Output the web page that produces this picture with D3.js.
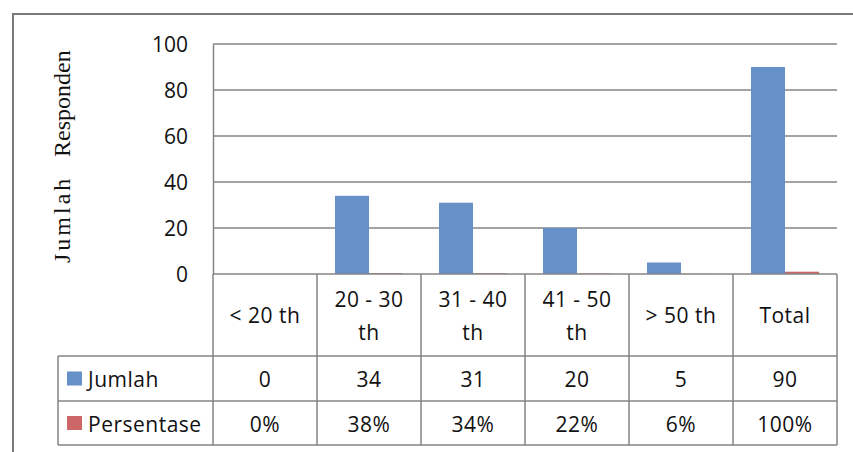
<!DOCTYPE html>
<html>
<head>
<meta charset="utf-8">
<script src="https://cdn.jsdelivr.net/npm/d3@7"></script>
<style>
  html, body { margin: 0; padding: 0; background: #ffffff; }
  svg { display: block; }
</style>
</head>
<body>
<svg id="chart" width="853" height="452"></svg>
<script>
// ---- data ----
const categories = ["< 20 th", "20 - 30 th", "31 - 40 th", "41 - 50 th", "> 50 th", "Total"];
const categoryLines = [["< 20 th"], ["20 - 30", "th"], ["31 - 40", "th"], ["41 - 50", "th"], ["> 50 th"], ["Total"]];
const seriesNames = ["Jumlah", "Persentase"];
const jumlah = [0, 34, 31, 20, 5, 90];
const persentase = [0.00, 0.38, 0.34, 0.22, 0.06, 1.00];
const persentaseLabels = ["0%", "38%", "34%", "22%", "6%", "100%"];
const yTicks = [0, 20, 40, 60, 80, 100];
const yTitle = ["Jumlah", "Responden"];

// ---- layout ----
const plotL = 213, plotR = 837, plotT = 44, plotB = 274;
const headerB = 356, row1B = 401, row2B = 445, legendL = 58;
const colors = { Jumlah: "#6690c8", Persentase: "#cd6666" };
const gridColor = "#858585";
const font = "'Open Sans', 'Noto Sans', sans-serif";
const serif = "'Liberation Serif', 'DejaVu Serif', serif";

const svg = d3.select("#chart");

// outer chart border (only top & left visible)
svg.append("path")
  .attr("d", `M13,452 V14 H853`)
  .attr("fill", "none").attr("stroke", "#7a7a7a").attr("stroke-width", 2);

const x0 = d3.scaleBand().domain(categories).range([plotL, plotR]).padding(0);
const x1 = d3.scaleBand().domain(seriesNames).range([18, 86]).padding(0);
const y = d3.scaleLinear().domain([0, 100]).range([plotB, plotT]);

// gridlines
svg.append("g").selectAll("line").data(yTicks.filter(d => d > 0)).join("line")
  .attr("x1", plotL).attr("x2", plotR)
  .attr("y1", d => y(d)).attr("y2", d => y(d))
  .attr("stroke", gridColor).attr("stroke-width", 1.5);

// y axis (left plot border + labels)
const yAxis = d3.axisLeft(y).tickValues(yTicks).tickSize(0).tickPadding(25);
const gy = svg.append("g").attr("transform", `translate(${plotL},0)`).call(yAxis);
gy.select(".domain").attr("stroke", gridColor).attr("stroke-width", 1.5);
gy.selectAll("text").attr("font-family", font).attr("font-size", 21).attr("fill", "#111")
  .attr("dy", "0.36em");

// y title (rotated)
const tTitle = svg.append("g").attr("transform", "translate(70,0) rotate(-90)");
tTitle.append("text").text(yTitle[0])
  .attr("x", -263).attr("y", 0)
  .attr("letter-spacing", 3)
  .attr("font-family", serif).attr("font-size", 24).attr("fill", "#111");
tTitle.append("text").text(yTitle[1])
  .attr("x", -157).attr("y", 0)
  .attr("font-family", serif).attr("font-size", 24).attr("fill", "#111");

// bars
const rows = categories.map((c, i) => ({ cat: c, Jumlah: jumlah[i], Persentase: persentase[i] }));
const gBars = svg.append("g");
gBars.selectAll("g").data(rows).join("g")
  .attr("transform", d => `translate(${x0(d.cat)},0)`)
  .selectAll("rect").data(d => seriesNames.map(s => ({ s, v: d[s] }))).join("rect")
  .attr("x", d => x1(d.s)).attr("width", x1.bandwidth())
  .attr("y", d => y(d.v)).attr("height", d => y(0) - y(d.v))
  .attr("fill", d => colors[d.s]);

// data table
const tbl = svg.append("g");
const lineStyle = sel => sel.attr("stroke", gridColor).attr("stroke-width", 1.5).attr("fill", "none");
tbl.append("line").attr("x1", plotL).attr("x2", plotR).attr("y1", plotB).attr("y2", plotB).call(lineStyle);
[headerB, row1B, row2B].forEach(yy =>
  tbl.append("line").attr("x1", legendL).attr("x2", plotR).attr("y1", yy).attr("y2", yy).call(lineStyle));
tbl.append("line").attr("x1", legendL).attr("x2", legendL).attr("y1", headerB).attr("y2", row2B).call(lineStyle);
categories.forEach(c =>
  tbl.append("line").attr("x1", x0(c)).attr("x2", x0(c)).attr("y1", plotB).attr("y2", row2B).call(lineStyle));
tbl.append("line").attr("x1", plotR).attr("x2", plotR).attr("y1", plotB).attr("y2", row2B).call(lineStyle);

const cellText = (g, txt, cx, cy) => g.append("text").text(txt)
  .attr("x", cx).attr("y", cy).attr("text-anchor", "middle").attr("dy", "0.36em")
  .attr("letter-spacing", 0.5)
  .attr("font-family", font).attr("font-size", 21).attr("fill", "#111");

// header
categories.forEach((c, i) => {
  const cx = x0(c) + x0.bandwidth() / 2;
  const lines = categoryLines[i];
  if (lines.length === 1) cellText(tbl, lines[0], cx, (plotB + headerB) / 2);
  else { cellText(tbl, lines[0], cx, 299); cellText(tbl, lines[1], cx, 332); }
});
// values rows
categories.forEach((c, i) => {
  const cx = x0(c) + x0.bandwidth() / 2;
  cellText(tbl, String(jumlah[i]), cx, (headerB + row1B) / 2 + 1);
  cellText(tbl, persentaseLabels[i], cx, (row1B + row2B) / 2 + 1);
});
// legend keys
[[seriesNames[0], headerB, row1B], [seriesNames[1], row1B, row2B]].forEach(([s, t, b]) => {
  const cy = (t + b) / 2;
  tbl.append("rect").attr("x", 67).attr("y", cy - 7).attr("width", 15).attr("height", 14).attr("fill", colors[s]);
  tbl.append("text").text(s).attr("x", 88).attr("y", cy + 1).attr("dy", "0.36em")
    .attr("letter-spacing", 0.5)
    .attr("font-family", font).attr("font-size", 21).attr("fill", "#111");
});
</script>
</body>
</html>
